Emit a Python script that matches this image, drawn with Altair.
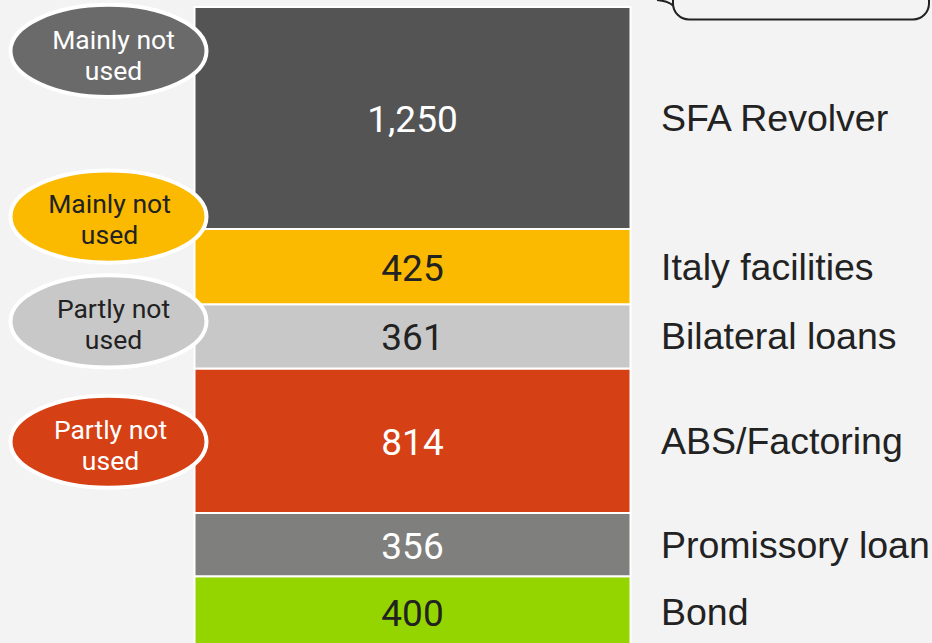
import altair as alt
import pandas as pd

# ---- data (bottom of the stack first) ----
categories = ["Bond", "Promissory loan", "ABS/Factoring", "Bilateral loans",
              "Italy facilities", "SFA Revolver"]
amounts = [400, 356, 814, 361, 425, 1250]

note_categories = ["SFA Revolver", "Italy facilities", "Bilateral loans", "ABS/Factoring"]
note_texts = ["Mainly not\nused", "Mainly not\nused", "Partly not\nused", "Partly not\nused"]

# ---- styles ----
seg_colors = ["#94d500", "#7f807e", "#d54015", "#c8c8c8", "#fbba00", "#545454"]
val_text_colors = ["#222222", "#ffffff", "#ffffff", "#222222", "#222222", "#ffffff"]
BG = "#f3f3f3"
note_style = {
    "SFA Revolver": dict(fill="#6a6a6a", text="#ffffff", dy=-67, tdx=5, tdy=-10),
    "Italy facilities": dict(fill="#fbba00", text="#222222", dy=-50, tdx=1, tdy=-12),
    "Bilateral loans": dict(fill="#c8c8c8", text="#222222", dy=-15, tdx=5, tdy=-11),
    "ABS/Factoring": dict(fill="#d54015", text="#ffffff", dy=1, tdx=2, tdy=-11),
}
ELLIPSE = "M -1 0 A 1 0.47 0 1 1 1 0 A 1 0.47 0 1 1 -1 0 Z"

notes_map = dict(zip(note_categories, note_texts))
df = pd.DataFrame({
    "category": categories,
    "amount": amounts,
    "rank": list(range(len(categories))),
    "note": [notes_map.get(c, "") for c in categories],
})

yscale = alt.Scale(domain=[24, 3645], zero=False, nice=False)

base = alt.Chart(df).transform_stack(
    stack="amount", groupby=[], as_=["y0", "y1"],
    sort=[alt.SortField("rank", order="ascending")]
).transform_calculate(mid="(datum.y0 + datum.y1) / 2")

bars = base.mark_rect(stroke="white", strokeWidth=2, clip=True).encode(
    x=alt.value(194.5), x2=alt.value(630.5),
    y=alt.Y("y1:Q", scale=yscale, axis=None), y2="y0:Q",
    color=alt.Color("category:N", scale=alt.Scale(domain=categories, range=seg_colors), legend=None),
)

values = base.mark_text(font="Roboto", fontSize=37, align="center", baseline="middle", dy=3).encode(
    x=alt.value(412.5),
    y=alt.Y("mid:Q", scale=yscale, axis=None),
    text=alt.Text("amount:Q", format=","),
    color=alt.Color("category:N", scale=alt.Scale(domain=categories, range=val_text_colors), legend=None),
)

labels = base.mark_text(font="Liberation Sans", fontSize=37.5, align="left", baseline="middle",
                        dy=2, color="#222222").encode(
    x=alt.value(661),
    y=alt.Y("mid:Q", scale=yscale, axis=None),
    text="category:N",
)

layers = [bars, values, labels]
for cat in note_categories:
    st = note_style[cat]
    sub = base.transform_filter(alt.datum.category == cat)
    ell = sub.mark_point(shape=ELLIPSE, size=196 ** 2, filled=True, fill=st["fill"],
                         stroke="white", strokeWidth=4, opacity=1, yOffset=st["dy"]).encode(
        x=alt.value(108.5),
        y=alt.Y("mid:Q", scale=yscale, axis=None),
    )
    txt = sub.mark_text(font="Roboto", fontSize=26.5, lineHeight=31, lineBreak="\n",
                        align="center", baseline="middle", color=st["text"],
                        dy=st["dy"] + st["tdy"]).encode(
        x=alt.value(108.5 + st["tdx"]),
        y=alt.Y("mid:Q", scale=yscale, axis=None),
        text="note:N",
    )
    layers += [ell, txt]

one = pd.DataFrame({"k": [0]})
bubble = alt.Chart(one).mark_rect(cornerRadius=16, fill=BG, stroke="#222222", strokeWidth=2).encode(
    x=alt.value(673), x2=alt.value(929), y=alt.value(-40), y2=alt.value(19.5)
)
tail = alt.Chart(one).mark_point(shape="M -0.9 0 Q 0.2 0.1 0.7 0.55", size=400, filled=False,
                                 stroke="#222222", strokeWidth=2, opacity=1).encode(
    x=alt.value(666), y=alt.value(0)
)
layers += [bubble, tail]

chart = alt.layer(*layers).resolve_scale(color="independent").properties(
    width=932, height=643, autosize=alt.AutoSizeParams(type="none"), padding=0,
    background=BG,
).configure_view(stroke=None)

chart.save("out.html", embed_options={"renderer": "svg", "actions": False})
